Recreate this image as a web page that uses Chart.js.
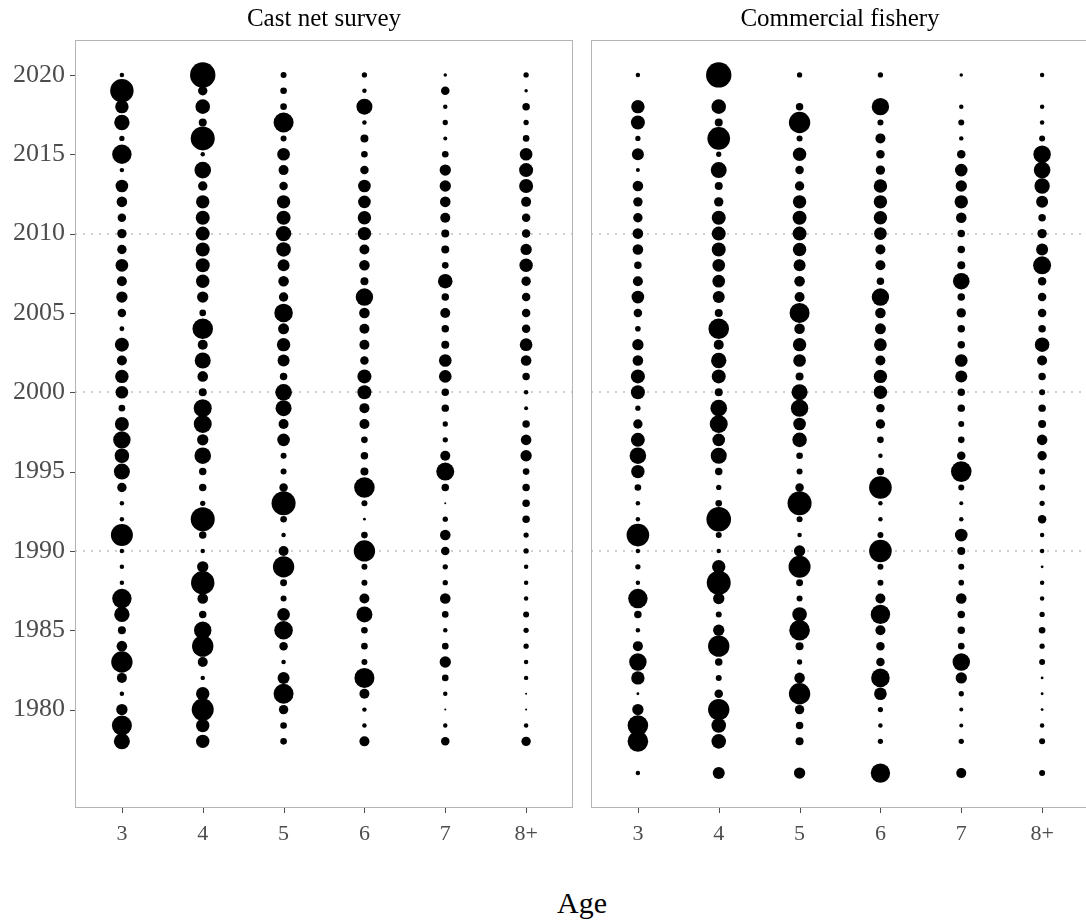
<!DOCTYPE html>
<html>
<head>
<meta charset="utf-8">
<script src="https://cdn.jsdelivr.net/npm/chart.js@4.4.1/dist/chart.umd.min.js"></script>
<style>
  html, body { margin: 0; padding: 0; background: #fff; width: 1086px; height: 924px; overflow: hidden; }
  #wrap { position: relative; width: 1086px; height: 924px; overflow: hidden; }
  canvas { position: absolute; top: 0; }
  .strip { position: absolute; top: 4px; font-family: "Liberation Serif", "Times New Roman", serif; font-size: 25px; color: #000; transform: translateX(-50%); white-space: nowrap; }
  #xlab { position: absolute; top: 886px; left: 582px; transform: translateX(-50%); font-family: "Liberation Serif", "Times New Roman", serif; font-size: 30px; color: #000; }
</style>
</head>
<body>
<div id="wrap">
  <canvas id="c1" width="580" height="860" style="left:0px"></canvas>
  <canvas id="c2" width="510" height="860" style="left:585px"></canvas>
  <div class="strip" style="left:324px">Cast net survey</div>
  <div class="strip" style="left:840px">Commercial fishery</div>
  <div id="xlab">Age</div>
</div>
<script>
// ---- Data ----
const years = [2020,2019,2018,2017,2016,2015,2014,2013,2012,2011,2010,2009,2008,2007,2006,2005,2004,2003,2002,2001,2000,
               1999,1998,1997,1996,1995,1994,1993,1992,1991,1990,1989,1988,1987,1986,1985,1984,1983,1982,1981,1980,1979,1978,1977,1976];
const ageLabels = ["3","4","5","6","7","8+"];
const yearTicks = [1980,1985,1990,1995,2000,2005,2010,2015,2020];
const gridYears = [1990,2000,2010];
const panelTitles = ["Cast net survey","Commercial fishery"];

// Relative abundance (bubble area) — Cast net survey, by age, years 2020 -> 1976
const castAge3 = [5,137,45,59,7,94,5,40,28,18,22,22,40,25,32,18,6,49,25,45,40,11,49,76,53,64,22,5,5,121,5,5,5,94,59,16,28,114,25,5,32,100,64,null,null];
const castAge4 = [161,22,53,16,144,5,69,22,45,49,49,49,49,45,32,11,106,25,64,28,16,81,81,32,69,14,14,7,144,14,5,32,137,28,14,76,114,25,5,45,121,45,45,null,null];
const castAge5 = [9,11,11,100,9,40,25,18,45,49,59,53,36,28,22,86,30,45,36,14,69,64,25,40,9,9,18,144,11,5,25,114,12,9,40,86,18,5,36,100,22,11,11,null,null];
const castAge6 = [7,5,64,5,16,11,18,40,40,45,45,25,28,16,76,28,25,25,18,49,49,25,25,11,14,16,106,9,2,11,114,9,9,25,64,11,11,9,100,25,5,5,25,null,null];
const castAge7 = [3,18,5,7,4,11,32,32,28,25,16,16,11,53,14,25,14,16,40,40,14,14,7,7,25,81,14,1,7,28,18,7,7,28,11,5,11,32,11,5,1,5,18,null,null];
const castAge8 = [7,3,14,7,11,40,49,49,25,18,18,32,45,22,18,18,18,40,28,14,5,4,14,28,32,11,14,14,14,7,7,5,5,5,9,7,7,5,5,1,1,5,22,null,null];

// Relative abundance (bubble area) — Commercial fishery, by age, years 2020 -> 1976
const commAge3 = [5,null,45,49,7,36,4,28,22,22,28,28,14,25,40,18,8,32,28,49,49,7,22,49,69,45,11,5,5,128,5,7,5,94,14,5,25,76,45,2,32,106,106,null,5];
const commAge4 = [161,null,53,16,128,7,64,16,22,49,49,49,40,40,36,16,106,25,59,49,16,69,81,40,64,14,7,11,151,9,5,45,144,32,9,32,114,14,9,18,114,53,53,null,36];
const commAge5 = [7,null,14,114,9,45,18,22,45,49,49,45,36,28,25,100,28,45,40,16,64,76,40,53,11,9,18,144,9,5,32,121,12,9,53,106,16,7,28,114,22,14,16,null,32];
const commAge6 = [7,null,76,9,25,18,22,45,45,45,40,25,25,14,76,28,30,40,25,45,45,18,22,11,5,14,128,5,5,9,128,9,9,25,94,25,18,18,86,40,7,5,7,null,94];
const commAge7 = [3,null,5,9,5,18,40,32,45,28,14,14,16,69,14,22,14,14,40,36,14,14,9,11,18,106,9,4,5,40,16,9,8,28,14,14,11,76,32,7,4,4,7,null,25];
const commAge8 = [5,null,5,5,9,76,69,59,36,14,22,36,81,18,18,18,14,53,25,14,9,14,16,28,22,9,9,7,18,5,5,2,5,5,7,11,7,9,2,2,2,5,9,null,9];

const castSeries = [castAge3, castAge4, castAge5, castAge6, castAge7, castAge8];
const commSeries = [commAge3, commAge4, commAge5, commAge6, commAge7, commAge8];

// ---- Build points ----
function buildPoints(series) {
  const pts = [];
  series.forEach((arr, ai) => {
    arr.forEach((v, yi) => {
      if (v !== null && v !== undefined) {
        pts.push({ x: ai + 1, y: years[yi], v: v });
      }
    });
  });
  return pts;
}

const SERIF = '"Liberation Serif", "Times New Roman", serif';

const framePlugin = {
  id: 'frame',
  beforeDatasetsDraw(chart) {
    const { ctx, chartArea: a, scales } = chart;
    ctx.save();
    ctx.strokeStyle = '#cfcfcf';
    ctx.lineWidth = 2;
    ctx.setLineDash([2, 6]);
    gridYears.forEach(yr => {
      const y = Math.round(scales.y.getPixelForValue(yr));
      ctx.beginPath();
      ctx.moveTo(a.left, y);
      ctx.lineTo(a.right, y);
      ctx.stroke();
    });
    ctx.restore();
  },
  afterDatasetsDraw(chart, args, opts) {
    const { ctx, chartArea: a, scales } = chart;
    ctx.save();
    ctx.strokeStyle = '#b3b3b3';
    ctx.lineWidth = 1;
    ctx.strokeRect(a.left + 0.5, a.top + 0.5, a.right - a.left - 1, a.bottom - a.top - 1);
    ctx.strokeStyle = '#4d4d4d';
    ctx.beginPath();
    ageLabels.forEach((l, i) => {
      const x = Math.round(scales.x.getPixelForValue(i + 1)) + 0.5;
      ctx.moveTo(x, a.bottom);
      ctx.lineTo(x, a.bottom + 5);
    });
    if (opts.yTicks) {
      yearTicks.forEach(yr => {
        const y = Math.round(scales.y.getPixelForValue(yr)) + 0.5;
        ctx.moveTo(a.left - 5, y);
        ctx.lineTo(a.left, y);
      });
    }
    ctx.stroke();
    ctx.restore();
  }
};

function makeChart(id, series, showY, padding) {
  return new Chart(document.getElementById(id), {
    type: 'bubble',
    data: {
      datasets: [{
        data: buildPoints(series),
        backgroundColor: '#000000',
        borderWidth: 0,
        radius: (ctx) => {
          const p = ctx.raw;
          return p ? Math.sqrt(p.v) : 0;
        },
        hoverRadius: 0,
        clip: false
      }]
    },
    plugins: [framePlugin],
    options: {
      responsive: false,
      animation: false,
      events: [],
      devicePixelRatio: 1,
      layout: { padding: padding, autoPadding: false },
      plugins: {
        legend: { display: false },
        tooltip: { enabled: false },
        title: { display: false },
        frame: { yTicks: showY }
      },
      scales: {
        x: {
          type: 'linear',
          min: 0.42,
          max: 6.58,
          grid: { display: false },
          border: { display: false },
          afterBuildTicks: (s) => { s.ticks = ageLabels.map((l, i) => ({ value: i + 1 })); },
          afterFit: (s) => { s.height = 52; },
          ticks: {
            callback: (v) => ageLabels[Math.round(v) - 1],
            color: '#4d4d4d',
            font: { family: SERIF, size: 22 },
            padding: 5,
            maxRotation: 0,
            autoSkip: false
          }
        },
        y: {
          type: 'linear',
          display: showY ? true : false,
          min: 1973.8,
          max: 2022.2,
          grid: { display: false },
          border: { display: false },
          afterBuildTicks: (s) => { s.ticks = yearTicks.map(v => ({ value: v })); },
          afterFit: (s) => { if (showY) { s.width = 75; } else { s.width = 0; } },
          ticks: {
            callback: (v) => String(v),
            color: '#4d4d4d',
            font: { family: SERIF, size: 26 },
            padding: 2,
            autoSkip: false
          }
        }
      }
    }
  });
}

makeChart('c1', castSeries, true, { top: 40, right: 7, left: 0, bottom: 0 });
makeChart('c2', commSeries, false, { top: 40, right: 6, left: 6, bottom: 0 });
</script>
</body>
</html>
